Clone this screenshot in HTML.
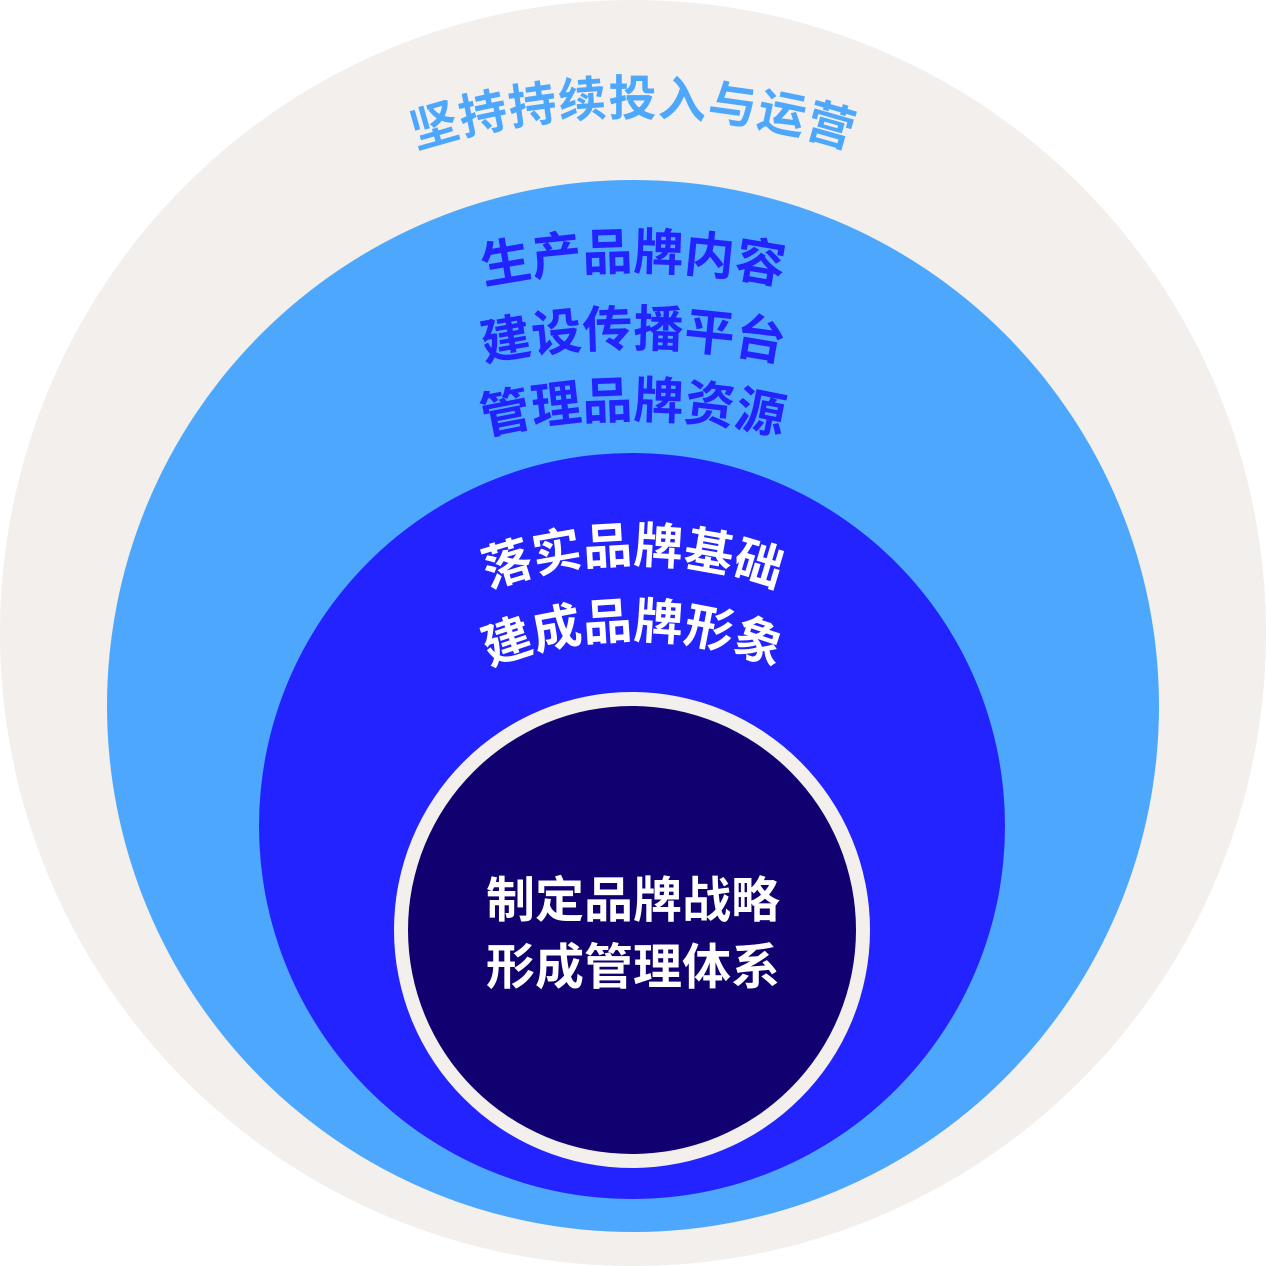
<!DOCTYPE html>
<html><head><meta charset="utf-8"><style>
html,body{margin:0;padding:0;background:#fff;}
svg{display:block}
text{font-family:"Liberation Sans","Noto Sans CJK SC",sans-serif;font-weight:bold;}
</style></head><body>
<svg width="1266" height="1266" viewBox="0 0 1266 1266" xmlns="http://www.w3.org/2000/svg">
<defs>
<path id="p0" d="M131,323 A710,710 0 0 1 1135,323"/>
<path id="p1" d="M258,370 A750,750 0 0 1 1008,370"/>
<path id="p2" d="M258,447 A750,750 0 0 1 1008,447"/>
<path id="p3" d="M308,505 A650,650 0 0 1 958,505"/>
<path id="p4" d="M363,661 A420,420 0 0 1 903,661"/>
<path id="p5" d="M389,727 A380,380 0 0 1 877,727"/>
</defs>
<circle cx="633" cy="633" r="633" fill="#f2efec"/>
<circle cx="633" cy="706" r="526" fill="#4da8fd"/>
<circle cx="632" cy="826" r="373" fill="#2323ff"/>
<circle cx="632" cy="930" r="238" fill="#f2efec"/>
<circle cx="632" cy="930" r="224" fill="#110070"/>
<text font-size="48" fill="#4da8fd" letter-spacing="1"><textPath href="#p0" startOffset="50%" text-anchor="middle">坚持持续投入与运营</textPath></text>
<text font-size="50" fill="#2323ff"><textPath href="#p1" startOffset="50%" text-anchor="middle">生产品牌内容</textPath></text>
<text font-size="50" fill="#2323ff"><textPath href="#p2" startOffset="50%" text-anchor="middle">建设传播平台</textPath></text>
<text font-size="50" fill="#2323ff"><textPath href="#p3" startOffset="50%" text-anchor="middle">管理品牌资源</textPath></text>
<text font-size="49" fill="#fff"><textPath href="#p4" startOffset="50%" text-anchor="middle">落实品牌基础</textPath></text>
<text font-size="49" fill="#fff"><textPath href="#p5" startOffset="50%" text-anchor="middle">建成品牌形象</textPath></text>
<text x="633" y="917" font-size="49" fill="#fff" text-anchor="middle">制定品牌战略</text>
<text x="633" y="984" font-size="49" fill="#fff" text-anchor="middle">形成管理体系</text>
</svg>
</body></html>
